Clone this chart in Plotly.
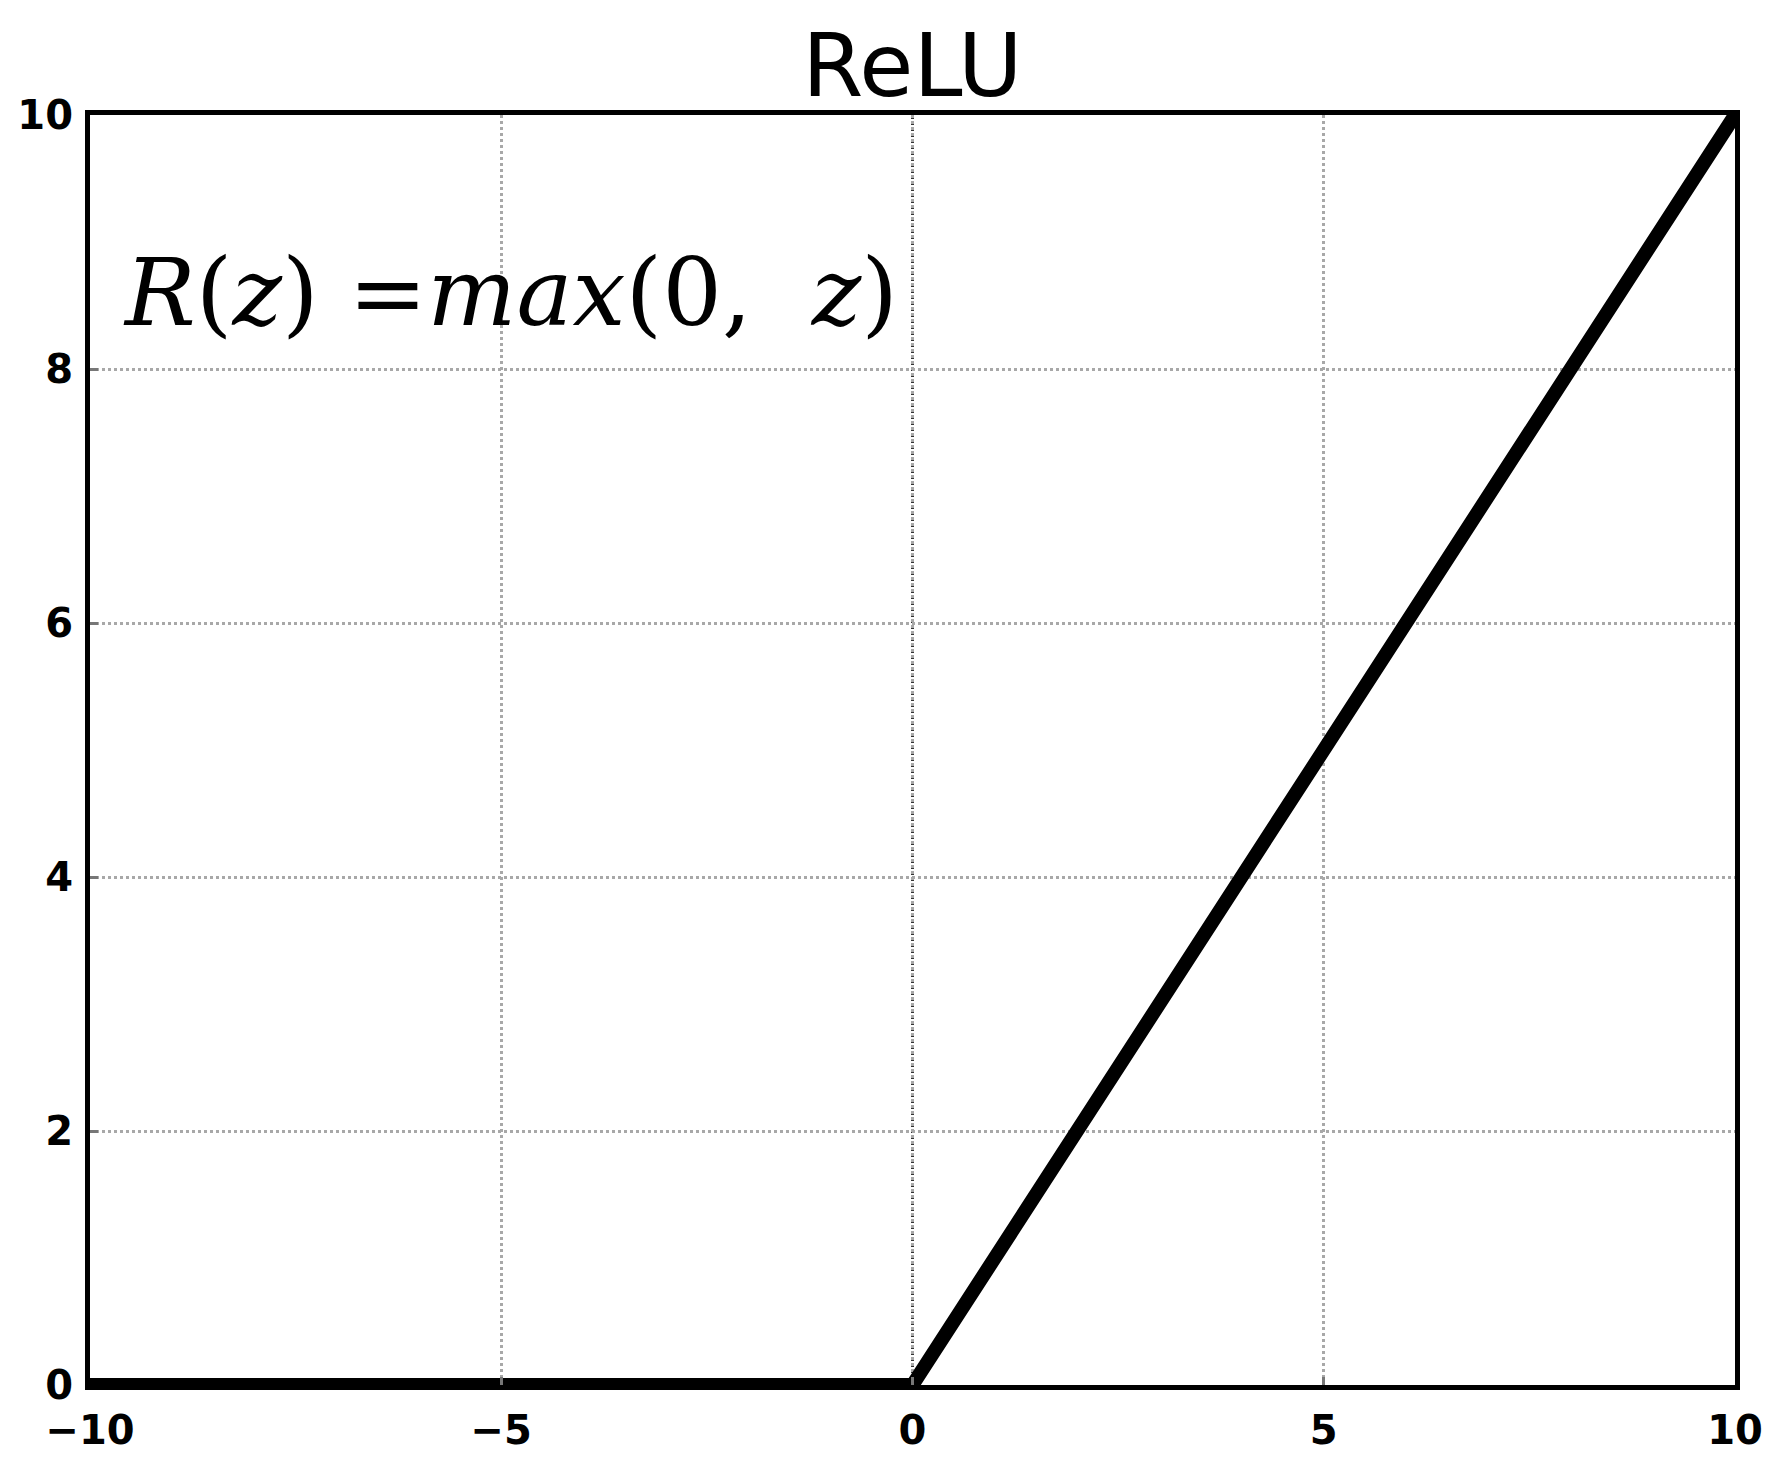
import plotly.graph_objects as go

# Data
z_values = [-10, 0, 10]
relu_values = [0, 0, 10]
x_ticks = [-10, -5, 0, 5, 10]
x_tick_labels = ["\u221210", "\u22125", "0", "5", "10"]
y_ticks = [0, 2, 4, 6, 8, 10]
y_tick_labels = ["0", "2", "4", "6", "8", "10"]
title_text = "ReLU"

fig = go.Figure()
fig.add_trace(go.Scatter(
    x=z_values, y=relu_values, mode="lines",
    line=dict(color="black", width=14),
    showlegend=False, cliponaxis=False,
))

fig.add_vline(x=0, line=dict(color="#333333", width=3, dash="dot"), layer="below")

fig.add_annotation(
    x=-9.62, y=8.6, xref="x", yref="y", xanchor="left", yanchor="middle",
    text="<i>R</i>(<i>z</i>) =<i>max</i>(0,  <i>z</i>)",
    showarrow=False,
    font=dict(family="DejaVu Serif", size=94, color="black"),
)

axis_common = dict(
    showline=True, linecolor="black", linewidth=5, mirror=True,
    showgrid=True, gridcolor="#a8a8a8", gridwidth=2.5, griddash="dot",
    zeroline=False, automargin=False,
    ticks="inside", ticklen=8, tickwidth=3, tickcolor="#777777",
    tickfont=dict(family="DejaVu Sans", size=40, color="black", weight="bold"),
)

fig.update_xaxes(range=[-10, 10], tickvals=x_ticks, ticktext=x_tick_labels,
                 ticklabelstandoff=6, **axis_common)
fig.update_yaxes(range=[0, 10], tickvals=y_ticks, ticktext=y_tick_labels,
                 ticklabelstandoff=4, **axis_common)

fig.update_layout(
    width=1775, height=1484,
    margin=dict(l=90, r=40, t=115, b=99),
    paper_bgcolor="white", plot_bgcolor="white",
    title=dict(text=title_text, x=0.514, xanchor="center", y=0.977, yanchor="top",
               font=dict(family="DejaVu Sans", size=88, color="black")),
)

fig.write_html(
    "out.html",
    config={"displayModeBar": False},
    post_script="document.body.style.margin='0';document.body.style.overflow='hidden';",
)
